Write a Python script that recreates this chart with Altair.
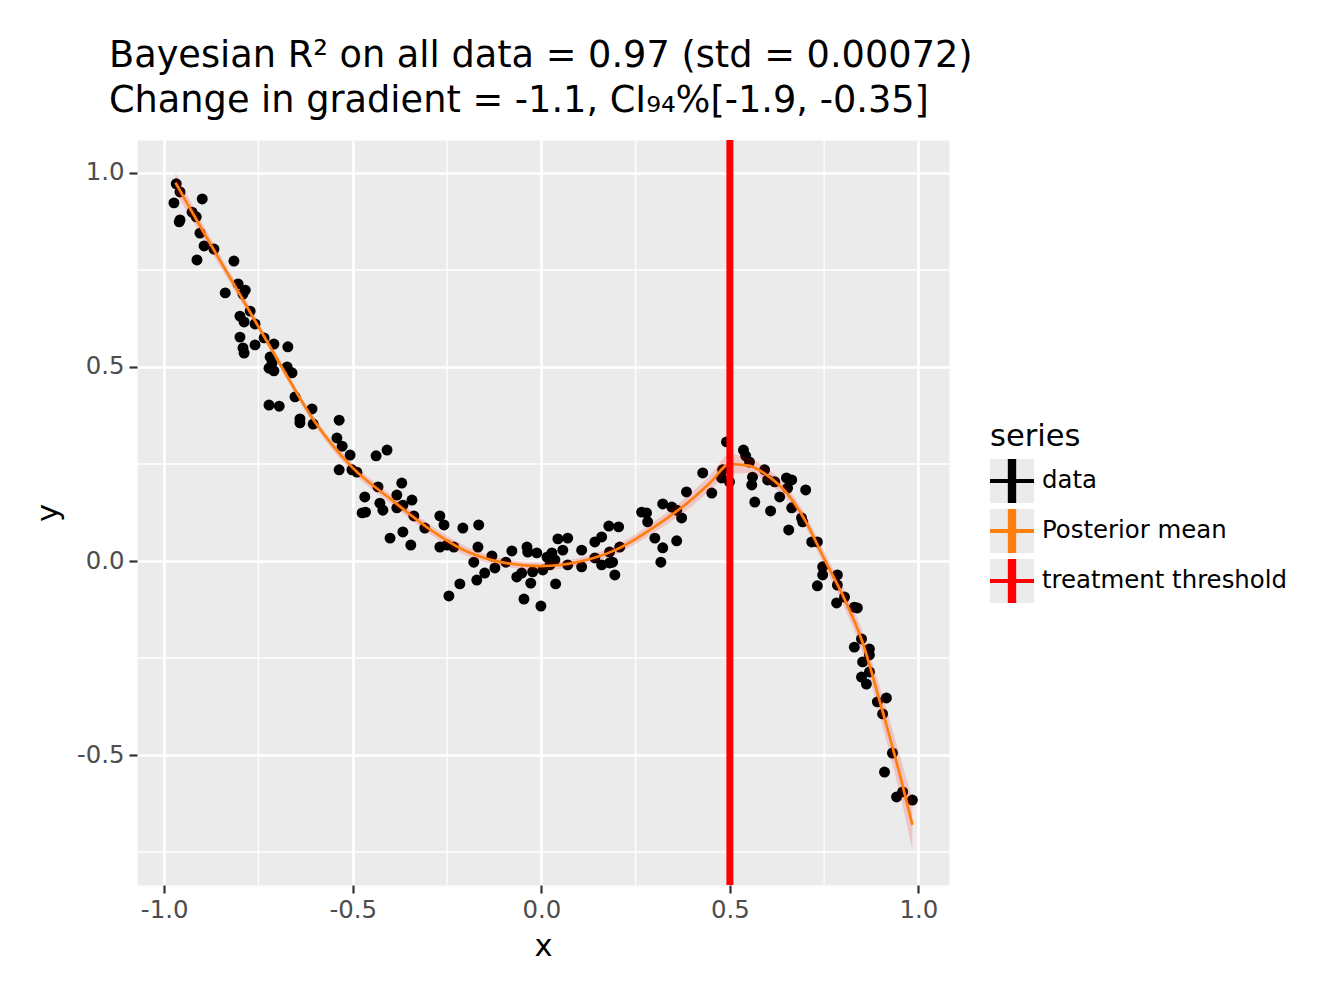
import altair as alt
import pandas as pd

# ---- observed data -------------------------------------------------------
obs_x = [
    -0.968, -0.958, -0.974, -0.899, -0.926, -0.915, -0.958, -0.960, -0.905, -0.894,
    -0.868, -0.913, -0.815, -0.804, -0.785, -0.791, -0.838, -0.772, -0.799, -0.788,
    -0.759, -0.799, -0.759, -0.735, -0.709, -0.672, -0.791, -0.788, -0.719, -0.714,
    -0.722, -0.709, -0.674, -0.661, -0.653, -0.722, -0.695, -0.608, -0.640, -0.536,
    -0.640, -0.605, -0.542, -0.528, -0.507, -0.536, -0.502, -0.489, -0.438, -0.409,
    -0.433, -0.370, -0.383, -0.468, -0.428, -0.420, -0.383, -0.367, -0.343, -0.475,
    -0.466, -0.338, -0.309, -0.269, -0.258, -0.208, -0.166, -0.401, -0.367, -0.346,
    -0.269, -0.250, -0.232, -0.168, -0.179, -0.131, -0.123, -0.150, -0.171, -0.216,
    -0.245, -0.078, -0.038, -0.036, -0.012, -0.094, -0.065, -0.052, -0.023, 0.004,
    -0.028, -0.046, -0.001, 0.015, 0.028, 0.036, 0.023, 0.038, 0.044, 0.070,
    0.057, 0.070, 0.107, 0.107, 0.142, 0.160, 0.142, 0.160, 0.181, 0.189,
    0.195, 0.181, 0.208, 0.179, 0.205, 0.266, 0.279, 0.282, 0.301, 0.322,
    0.317, 0.359, 0.322, 0.346, 0.359, 0.372, 0.385, 0.428, 0.452, 0.478,
    0.481, 0.491, 0.536, 0.542, 0.552, 0.499, 0.560, 0.558, 0.566, 0.592,
    0.600, 0.619, 0.608, 0.632, 0.650, 0.664, 0.653, 0.701, 0.664, 0.690,
    0.693, 0.656, 0.717, 0.732, 0.746, 0.746, 0.732, 0.785, 0.785, 0.804,
    0.783, 0.830, 0.838, 0.849, 0.830, 0.870, 0.870, 0.852, 0.870, 0.849,
    0.862, 0.891, 0.915, 0.905, 0.931, 0.910, 0.958, 0.942, 0.984,
]
obs_y = [
    0.972, 0.951, 0.923, 0.933, 0.899, 0.887, 0.879, 0.874, 0.845, 0.812,
    0.804, 0.776, 0.773, 0.714, 0.698, 0.688, 0.691, 0.644, 0.631, 0.616,
    0.611, 0.577, 0.557, 0.575, 0.559, 0.552, 0.549, 0.536, 0.526, 0.510,
    0.497, 0.490, 0.500, 0.485, 0.423, 0.402, 0.399, 0.392, 0.366, 0.363,
    0.356, 0.353, 0.317, 0.296, 0.273, 0.235, 0.235, 0.229, 0.271, 0.286,
    0.191, 0.201, 0.170, 0.165, 0.149, 0.131, 0.137, 0.144, 0.157, 0.124,
    0.126, 0.116, 0.085, 0.116, 0.093, 0.085, 0.093, 0.059, 0.075, 0.041,
    0.036, 0.041, 0.036, 0.036, -0.003, 0.013, -0.018, -0.031, -0.049, -0.059,
    -0.090, 0.026, 0.036, 0.023, 0.021, -0.003, -0.041, -0.031, -0.028, -0.023,
    -0.057, -0.098, -0.116, 0.010, 0.021, 0.003, -0.010, -0.059, 0.057, 0.059,
    0.028, -0.010, 0.028, -0.015, 0.049, 0.062, 0.008, -0.010, -0.005, -0.003,
    -0.036, 0.023, 0.036, 0.090, 0.088, 0.126, 0.124, 0.101, 0.059, 0.034,
    -0.003, 0.052, 0.147, 0.139, 0.131, 0.111, 0.178, 0.227, 0.175, 0.214,
    0.235, 0.307, 0.286, 0.271, 0.255, 0.204, 0.216, 0.196, 0.152, 0.235,
    0.209, 0.204, 0.129, 0.165, 0.214, 0.209, 0.188, 0.183, 0.137, 0.111,
    0.101, 0.080, 0.049, 0.049, -0.015, -0.036, -0.064, -0.036, -0.062, -0.093,
    -0.108, -0.119, -0.121, -0.201, -0.222, -0.227, -0.242, -0.260, -0.286, -0.299,
    -0.317, -0.363, -0.353, -0.394, -0.495, -0.544, -0.595, -0.608, -0.616,
]

# ---- posterior mean and its credible band --------------------------------
fit_x = [-0.970, -0.9, -0.8, -0.7, -0.6, -0.5, -0.4, -0.3, -0.2, -0.1, 0.0,
         0.1, 0.2, 0.3, 0.4, 0.45, 0.5, 0.55, 0.6, 0.65, 0.7, 0.75, 0.8,
         0.85, 0.9, 0.95, 0.984]
fit_mean = [0.975, 0.855, 0.688, 0.520, 0.358, 0.240, 0.160, 0.085, 0.026,
            -0.004, -0.013, -0.002, 0.030, 0.088, 0.160, 0.204, 0.250, 0.246,
            0.220, 0.176, 0.104, 0.006, -0.090, -0.205, -0.370, -0.548, -0.680]
fit_lower = [0.950, 0.837, 0.675, 0.510, 0.348, 0.228, 0.148, 0.073, 0.014,
             -0.014, -0.023, -0.012, 0.018, 0.074, 0.142, 0.184, 0.225, 0.226,
             0.202, 0.160, 0.088, -0.012, -0.112, -0.233, -0.408, -0.598, -0.745]
fit_upper = [1.000, 0.873, 0.701, 0.530, 0.368, 0.252, 0.172, 0.097, 0.038,
             0.006, -0.003, 0.008, 0.042, 0.102, 0.178, 0.224, 0.275, 0.266,
             0.238, 0.192, 0.120, 0.024, -0.068, -0.177, -0.332, -0.498, -0.615]

threshold = 0.5

series_names = ["data", "Posterior mean", "treatment threshold"]
series_colors = ["#000000", "#ff7f0e", "#ff0000"]

title_lines = [
    "Bayesian R\u00b2 on all data = 0.97 (std = 0.00072)",
    "Change in gradient = -1.1, CI\u2089\u2084%[-1.9, -0.35]",
]

major_x = [-1.0, -0.5, 0.0, 0.5, 1.0]
major_y = [-0.5, 0.0, 0.5, 1.0]
minor_x = [-0.75, -0.25, 0.25, 0.75]
minor_y = [-0.75, -0.25, 0.25, 0.75]

x_domain = [-1.072, 1.081]
y_domain = [-0.835, 1.085]

# ---- frames ---------------------------------------------------------------
obs_df = pd.DataFrame({"x": obs_x, "y": obs_y})
fit_df = pd.DataFrame({"x": fit_x, "mean": fit_mean, "lo": fit_lower, "hi": fit_upper})
thr_df = pd.DataFrame({"x": [threshold]})
minor_x_df = pd.DataFrame({"v": minor_x})
minor_y_df = pd.DataFrame({"v": minor_y})
key_df = pd.DataFrame({"series": series_names, "x": [threshold] * 3, "y": [0.0] * 3})

FONT = "DejaVu Sans"
label_expr = "replace(format(datum.value, '.1f'), '\u2212', '-')"

xscale = alt.Scale(domain=x_domain, nice=False, zero=False)
yscale = alt.Scale(domain=y_domain, nice=False, zero=False)

x_axis = alt.Axis(
    values=major_x, title="x", labelExpr=label_expr, domain=False,
    grid=True, gridColor="white", gridWidth=2.6,
    ticks=True, tickColor="#333333", tickWidth=2.2, tickSize=8,
    labelFont=FONT, labelFontSize=24.4, labelColor="#4D4D4D", labelPadding=5,
    labelFlush=False, labelOverlap=False,
    titleFont=FONT, titleFontSize=30.5, titleFontWeight="normal",
    titleColor="black", titlePadding=10,
)
y_axis = alt.Axis(
    values=major_y, title="y", labelExpr=label_expr, domain=False,
    grid=True, gridColor="white", gridWidth=2.6,
    ticks=True, tickColor="#333333", tickWidth=2.2, tickSize=8,
    labelFont=FONT, labelFontSize=24.4, labelColor="#4D4D4D", labelPadding=5,
    labelOverlap=False,
    titleFont=FONT, titleFontSize=30.5, titleFontWeight="normal",
    titleColor="black", titlePadding=13,
)

# minor grid lines
minor_v = alt.Chart(minor_x_df).mark_rule(color="white", strokeWidth=1.3).encode(
    x=alt.X("v:Q", scale=xscale, axis=x_axis)
)
minor_h = alt.Chart(minor_y_df).mark_rule(color="white", strokeWidth=1.3).encode(
    y=alt.Y("v:Q", scale=yscale, axis=y_axis)
)

points = alt.Chart(obs_df).mark_circle(size=120, color="black", opacity=1).encode(
    x=alt.X("x:Q", scale=xscale, axis=x_axis),
    y=alt.Y("y:Q", scale=yscale, axis=y_axis),
)

band = alt.Chart(fit_df).mark_area(color="#ff0000", opacity=0.16, interpolate="monotone").encode(
    x="x:Q", y="lo:Q", y2="hi:Q"
)

mean_line = alt.Chart(fit_df).mark_line(
    color="#ff7f0e", strokeWidth=2.7, interpolate="monotone"
).encode(x="x:Q", y="mean:Q")

thr_rule = alt.Chart(thr_df).mark_rule(color="#ff0000", strokeWidth=7).encode(x="x:Q")

# legend: grey key boxes underneath coloured cross glyphs
legend_common = dict(
    title="series", orient="none", legendX=853, legendY=282, padding=0,
    symbolSize=1936, symbolStrokeWidth=0, symbolOpacity=1,
    labelFont=FONT, labelFontSize=24.4, labelOffset=8, labelLimit=400,
    titleFont=FONT, titleFontSize=30.5, titleFontWeight="normal", titlePadding=6.5,
    rowPadding=6,
)
cross_path = "M-0.19,-1H0.19V1H-0.19Z M-1,-0.09H1V0.09H-1Z"

# the box legend takes its domain from the data so it is kept apart from the glyph legend
key_boxes = alt.Chart(key_df).mark_point(filled=True, opacity=0, shape="square").encode(
    x="x:Q", y="y:Q",
    color=alt.Color(
        "series:N",
        scale=alt.Scale(range=["#EBEBEB"] * 3),
        legend=alt.Legend(
            symbolType="square", labelExpr="''",
            titleColor="rgba(0,0,0,0)", zindex=0, **legend_common
        ),
    ),
)
key_glyphs = alt.Chart(key_df).mark_point(filled=True, opacity=0).encode(
    x="x:Q", y="y:Q",
    fill=alt.Fill(
        "series:N",
        scale=alt.Scale(domain=series_names, range=series_colors),
        legend=alt.Legend(
            symbolType=cross_path, labelColor="black", titleColor="black",
            zindex=1, **legend_common
        ),
    ),
)

chart = (
    alt.layer(minor_v, minor_h, points, band, mean_line, thr_rule, key_boxes, key_glyphs)
    .properties(
        width=812, height=745,
        autosize=alt.AutoSizeParams(type="none"),
        padding={"left": 137, "top": 140, "right": 371, "bottom": 114},
        title=alt.TitleParams(
            text=title_lines, anchor="start", frame="group", dx=-28, offset=17,
            font=FONT, fontSize=36.7, fontWeight="normal", color="black",
            lineHeight=45,
        ),
    )
    .configure(background="white")
    .configure_view(fill="#EBEBEB", stroke="transparent")
)

chart.save("out.html", embed_options={"renderer": "svg", "actions": False})
